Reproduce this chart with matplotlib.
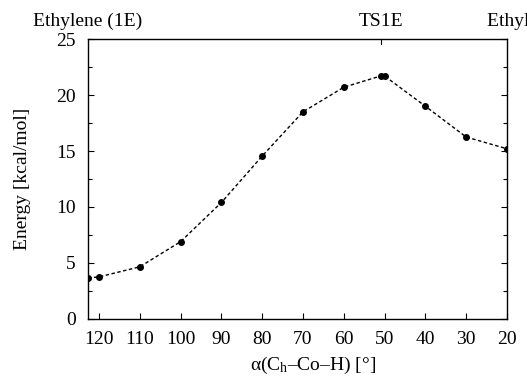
import matplotlib
matplotlib.use("Agg")
import matplotlib.pyplot as plt
from matplotlib.ticker import MultipleLocator

plt.rcParams['font.family'] = ['Liberation Serif', 'DejaVu Serif']
plt.rcParams['mathtext.fontset'] = 'custom'
plt.rcParams['mathtext.rm'] = 'Liberation Serif'
plt.rcParams['mathtext.it'] = 'Liberation Serif:italic'

# scan points: angle alpha(Ch-Co-H) in degrees, energy in kcal/mol
alpha = [122.7, 120, 110, 100, 90, 80, 70, 60, 51, 50, 40, 30, 20]
energy = [3.65, 3.75, 4.65, 6.9, 10.4, 14.55, 18.5, 20.7, 21.7, 21.7, 19.0, 16.25, 15.2]

x_ticks = [120, 110, 100, 90, 80, 70, 60, 50, 40, 30, 20]
y_ticks = [0, 5, 10, 15, 20, 25]
top_labels = ['Ethylene (1E)', 'TS1E', 'Ethylidene (2E)']
top_pos = [122.7, 51, 24.8]

fig = plt.figure(figsize=(5.27, 3.76), dpi=100)
ax = fig.add_axes([0.167, 0.152, 0.795, 0.744])

ax.plot(alpha, energy, color='black', linestyle=(0, (2.5, 1.8)), linewidth=1.0,
        marker='o', markersize=4, markerfacecolor='black', markeredgecolor='black')

ax.set_xlim(122.7, 20)
ax.set_ylim(0, 25)
ax.set_xticks(x_ticks)
ax.set_yticks(y_ticks)
ax.yaxis.set_minor_locator(MultipleLocator(2.5))

ax.tick_params(axis='both', which='both', direction='in', labelsize=14)
ax.tick_params(axis='x', which='major', length=4, width=0.8, pad=9, top=False)
ax.tick_params(axis='y', which='major', length=4, width=0.8, pad=9, right=True)
ax.tick_params(axis='y', which='minor', length=3, width=0.8, right=True)

for s in ax.spines.values():
    s.set_linewidth(1.0)

# single tick on the top spine at the transition state
ax.plot([top_pos[1], top_pos[1]], [25, 24.6], color='black', linewidth=0.8, clip_on=False)

ax.text(top_pos[0], 1.033, top_labels[0], transform=ax.get_xaxis_transform(),
        ha='center', va='bottom', fontsize=14)
ax.text(top_pos[1], 1.033, top_labels[1], transform=ax.get_xaxis_transform(),
        ha='center', va='bottom', fontsize=14)
ax.text(top_pos[2], 1.033, top_labels[2], transform=ax.get_xaxis_transform(),
        ha='left', va='bottom', fontsize=14)

ax.set_ylabel('Energy [kcal/mol]', fontsize=14)
ax.yaxis.set_label_coords(-0.135, 0.5)
ax.set_xlabel(r'α(C$_\mathrm{h}$–Co–H) [°]', fontsize=14)
ax.xaxis.set_label_coords(0.537, -0.13)

fig.savefig('out.png', dpi=100)
